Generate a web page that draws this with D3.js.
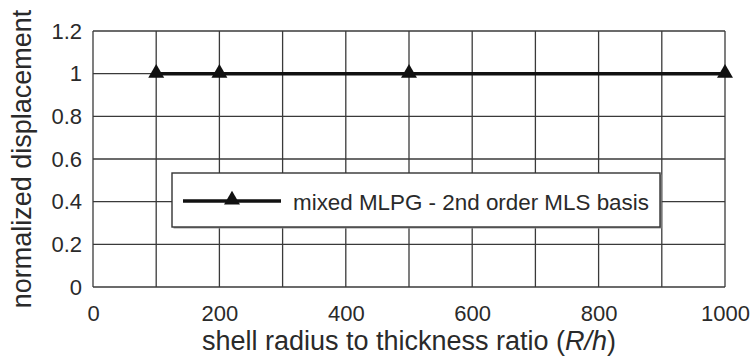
<!DOCTYPE html>
<html>
<head>
<meta charset="utf-8">
<script src="https://cdn.jsdelivr.net/npm/d3@7"></script>
<style>
  body { margin: 0; background: #fff; }
  text { font-family: "Liberation Sans", Arial, sans-serif; fill: #2a2a2a; }
</style>
</head>
<body>
<div id="chart"></div>
<script>
var svgWidth = 755;
var svgHeight = 358;

var margin = { top: 31, right: 30, bottom: 71, left: 93 };
var width = 725 - margin.left;
var height = 287 - margin.top;

// data
var ratios = [100, 200, 500, 1000];
var dispValues = [1, 1, 1, 1];
var xTicks = [0, 200, 400, 600, 800, 1000];
var xGrid = [100, 200, 300, 400, 500, 600, 700, 800, 900, 1000];
var yTicks = [0, 0.2, 0.4, 0.6, 0.8, 1, 1.2];
var seriesName = "mixed MLPG - 2nd order MLS basis";

var svg = d3.select("#chart")
  .append("svg")
  .attr("width", svgWidth)
  .attr("height", svgHeight);

var chartGroup = svg.append("g")
  .attr("transform", `translate(${margin.left}, ${margin.top})`);

var xScale = d3.scaleLinear().domain([0, 1000]).range([0, width]);
var yScale = d3.scaleLinear().domain([0, 1.2]).range([height, 0]);

// grid
chartGroup.selectAll(".vgrid")
  .data(xGrid)
  .enter()
  .append("line")
  .attr("x1", d => xScale(d))
  .attr("x2", d => xScale(d))
  .attr("y1", 0)
  .attr("y2", height)
  .attr("stroke", "#3a3a3a")
  .attr("stroke-width", 1.3);

chartGroup.selectAll(".hgrid")
  .data(yTicks)
  .enter()
  .append("line")
  .attr("x1", 0)
  .attr("x2", width)
  .attr("y1", d => yScale(d))
  .attr("y2", d => yScale(d))
  .attr("stroke", "#3a3a3a")
  .attr("stroke-width", 1.3);

chartGroup.append("line")
  .attr("x1", 0).attr("x2", 0)
  .attr("y1", 0).attr("y2", height)
  .attr("stroke", "#3a3a3a")
  .attr("stroke-width", 1.3);

// axes (labels only)
var bottomAxis = d3.axisBottom(xScale).tickValues(xTicks).tickSize(0).tickPadding(18)
  .tickFormat(d3.format("d"));
var leftAxis = d3.axisLeft(yScale).tickValues(yTicks).tickSize(0).tickPadding(11)
  .tickFormat(d3.format("~g"));

var xAxis = chartGroup.append("g")
  .attr("transform", `translate(0, ${height})`)
  .call(bottomAxis);
var yAxis = chartGroup.append("g").call(leftAxis);

[xAxis, yAxis].forEach(function(ax) {
  ax.select(".domain").remove();
  ax.selectAll("text")
    .style("font-size", "22px")
    .attr("fill", "#2a2a2a");
});

// series line
var line = d3.line()
  .x((d, i) => xScale(ratios[i]))
  .y(d => yScale(d));

chartGroup.append("path")
  .datum(dispValues)
  .attr("d", line)
  .attr("fill", "none")
  .attr("stroke", "#111")
  .attr("stroke-width", 3.5);

var tri = d3.symbol().type(d3.symbolTriangle).size(110);

chartGroup.selectAll(".marker")
  .data(dispValues)
  .enter()
  .append("path")
  .attr("d", tri)
  .attr("transform", (d, i) => `translate(${xScale(ratios[i])}, ${yScale(d) - 0.5})`)
  .attr("fill", "#111");

// legend
var legend = svg.append("g")
  .attr("transform", "translate(172, 173)");

legend.append("rect")
  .attr("x", 1.5)
  .attr("y", 1.5)
  .attr("width", 488)
  .attr("height", 54)
  .attr("fill", "#999");

legend.append("rect")
  .attr("x", 0)
  .attr("y", 0)
  .attr("width", 488)
  .attr("height", 54)
  .attr("fill", "#fff")
  .attr("stroke", "#333")
  .attr("stroke-width", 1.4);

legend.append("line")
  .attr("x1", 11).attr("x2", 109)
  .attr("y1", 28).attr("y2", 28)
  .attr("stroke", "#111")
  .attr("stroke-width", 3.5);

legend.append("path")
  .attr("d", tri)
  .attr("transform", "translate(60, 27)")
  .attr("fill", "#111");

legend.append("text")
  .attr("x", 121)
  .attr("y", 37)
  .style("font-size", "22.4px")
  .text(seriesName);

// axis titles
var xTitle = svg.append("text")
  .attr("x", margin.left + width / 2)
  .attr("y", 350)
  .attr("text-anchor", "middle")
  .style("font-size", "27px");
xTitle.append("tspan").text("shell radius to thickness ratio (");
xTitle.append("tspan").style("font-style", "italic").text("R/h");
xTitle.append("tspan").text(")");

svg.append("text")
  .attr("transform", "rotate(-90)")
  .attr("x", -(margin.top + height / 2))
  .attr("y", 31)
  .attr("text-anchor", "middle")
  .style("font-size", "27px")
  .text("normalized displacement");
</script>
</body>
</html>
